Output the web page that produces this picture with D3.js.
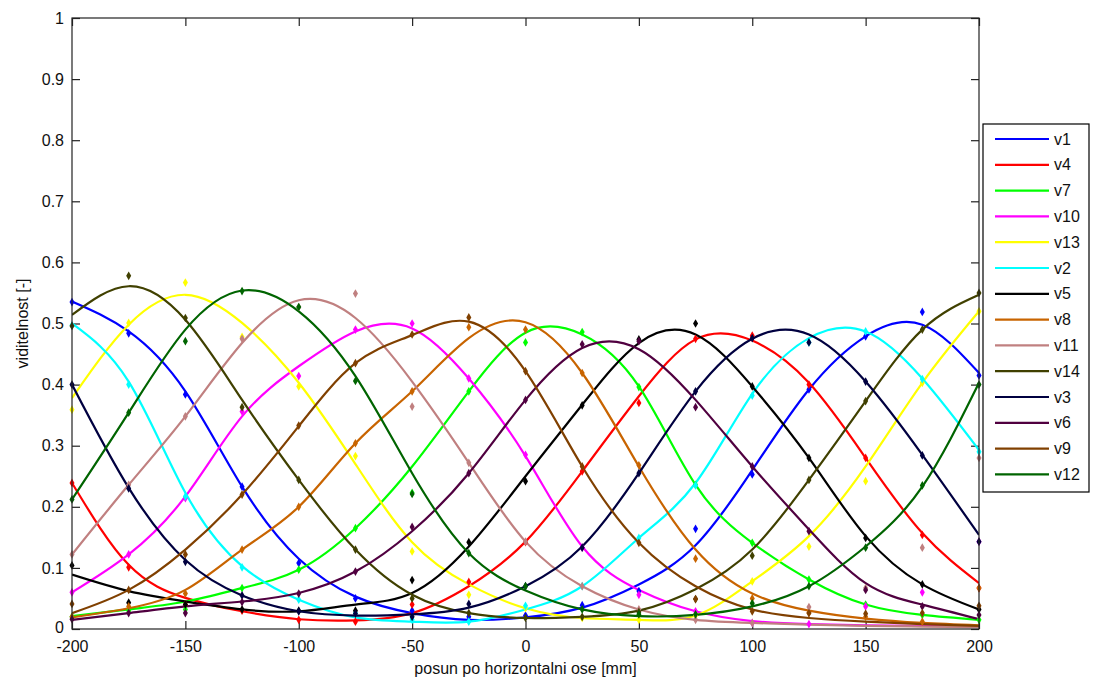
<!DOCTYPE html>
<html>
<head>
<meta charset="utf-8">
<script src="https://cdn.jsdelivr.net/npm/d3@7"></script>
<style>
  body { margin: 0; background: #fff; }
  text { font-family: "Liberation Sans", Arial, sans-serif; fill: #111; }
</style>
</head>
<body>
<div id="myChart"></div>
<script>
// positions along the slide (mm)
const positions = [-200, -175, -150, -125, -100, -75, -50, -25, 0, 25, 50, 75, 100, 125, 150, 175, 200];
const xTicks = [-200, -150, -100, -50, 0, 50, 100, 150, 200];
const yTicks = [0, 0.1, 0.2, 0.3, 0.4, 0.5, 0.6, 0.7, 0.8, 0.9, 1];

const names = ["v1", "v4", "v7", "v10", "v13", "v2", "v5", "v8", "v11", "v14", "v3", "v6", "v9", "v12"];
const colors = ["#0000ff", "#ff0000", "#00ff00", "#ff00ff", "#ffff00", "#00ffff", "#000000",
                "#c86400", "#c08080", "#404000", "#000040", "#500040", "#804000", "#006400"];

// fitted curves, read at every position
const fit_v1 = [0.536, 0.487, 0.389, 0.233, 0.115, 0.053, 0.026, 0.015, 0.019, 0.035, 0.073, 0.137, 0.26, 0.392, 0.479, 0.498, 0.419];
const fit_v4 = [0.239, 0.105, 0.051, 0.029, 0.016, 0.014, 0.026, 0.07, 0.143, 0.258, 0.381, 0.474, 0.472, 0.403, 0.28, 0.157, 0.075];
const fit_v7 = [0.021, 0.032, 0.045, 0.067, 0.097, 0.165, 0.266, 0.389, 0.485, 0.482, 0.397, 0.236, 0.141, 0.081, 0.04, 0.023, 0.015];
const fit_v10 = [0.06, 0.122, 0.217, 0.348, 0.43, 0.487, 0.492, 0.41, 0.283, 0.135, 0.064, 0.029, 0.013, 0.008, 0.006, 0.005, 0.004];
const fit_v13 = [0.378, 0.498, 0.547, 0.501, 0.403, 0.27, 0.142, 0.073, 0.034, 0.018, 0.015, 0.022, 0.078, 0.152, 0.266, 0.403, 0.52];
const fit_v2 = [0.5, 0.405, 0.223, 0.103, 0.048, 0.019, 0.012, 0.012, 0.032, 0.07, 0.149, 0.239, 0.385, 0.476, 0.487, 0.41, 0.293];
const fit_v5 = [0.089, 0.062, 0.045, 0.032, 0.029, 0.04, 0.059, 0.135, 0.25, 0.367, 0.468, 0.482, 0.397, 0.28, 0.152, 0.073, 0.032];
const fit_v8 = [0.019, 0.034, 0.064, 0.13, 0.2, 0.304, 0.389, 0.476, 0.502, 0.419, 0.266, 0.13, 0.058, 0.03, 0.017, 0.01, 0.006];
const fit_v11 = [0.122, 0.236, 0.348, 0.468, 0.538, 0.509, 0.405, 0.272, 0.143, 0.07, 0.032, 0.015, 0.01, 0.007, 0.005, 0.004, 0.003];
const fit_v14 = [0.514, 0.561, 0.506, 0.375, 0.244, 0.13, 0.056, 0.026, 0.018, 0.02, 0.03, 0.065, 0.13, 0.244, 0.373, 0.49, 0.547];
const fit_v3 = [0.4, 0.231, 0.113, 0.055, 0.029, 0.022, 0.024, 0.035, 0.07, 0.135, 0.255, 0.389, 0.475, 0.482, 0.405, 0.285, 0.154];
const fit_v6 = [0.015, 0.026, 0.037, 0.045, 0.059, 0.094, 0.16, 0.255, 0.375, 0.46, 0.458, 0.375, 0.266, 0.163, 0.075, 0.04, 0.016];
const fit_v9 = [0.026, 0.064, 0.13, 0.22, 0.332, 0.435, 0.481, 0.503, 0.422, 0.266, 0.141, 0.07, 0.032, 0.018, 0.012, 0.008, 0.005];
const fit_v12 = [0.212, 0.354, 0.49, 0.554, 0.52, 0.414, 0.255, 0.124, 0.063, 0.032, 0.021, 0.023, 0.037, 0.07, 0.135, 0.233, 0.403];

// measured points
const pts_v1 = [0.535, 0.484, 0.384, 0.233, 0.108, 0.05, 0.03, 0.02, 0.022, 0.039, 0.062, 0.164, 0.253, 0.392, 0.479, 0.519, 0.415];
const pts_v4 = [0.239, 0.101, 0.04, 0.03, 0.015, 0.012, 0.04, 0.077, 0.142, 0.258, 0.37, 0.475, 0.48, 0.4, 0.28, 0.154, 0.067];
const pts_v7 = [0.02, 0.03, 0.032, 0.067, 0.097, 0.165, 0.223, 0.389, 0.469, 0.486, 0.396, 0.236, 0.141, 0.081, 0.04, 0.023, 0.015];
const pts_v10 = [0.06, 0.122, 0.214, 0.356, 0.414, 0.49, 0.5, 0.41, 0.285, 0.133, 0.056, 0.029, 0.01, 0.008, 0.037, 0.06, 0.143];
const pts_v13 = [0.359, 0.501, 0.567, 0.478, 0.397, 0.283, 0.127, 0.056, 0.034, 0.018, 0.015, 0.022, 0.078, 0.135, 0.242, 0.403, 0.52];
const pts_v2 = [0.497, 0.4, 0.217, 0.101, 0.048, 0.026, 0.015, 0.012, 0.038, 0.07, 0.149, 0.235, 0.382, 0.469, 0.487, 0.409, 0.29];
const pts_v5 = [0.104, 0.043, 0.04, 0.032, 0.03, 0.03, 0.08, 0.142, 0.242, 0.366, 0.474, 0.5, 0.397, 0.28, 0.149, 0.073, 0.032];
const pts_v8 = [0.02, 0.037, 0.058, 0.13, 0.2, 0.304, 0.389, 0.494, 0.49, 0.419, 0.268, 0.115, 0.05, 0.026, 0.02, 0.012, 0.067];
const pts_v11 = [0.122, 0.236, 0.348, 0.475, 0.527, 0.549, 0.364, 0.272, 0.143, 0.07, 0.032, 0.015, 0.01, 0.036, 0.067, 0.133, 0.28];
const pts_v14 = [0.496, 0.578, 0.509, 0.363, 0.244, 0.13, 0.05, 0.026, 0.018, 0.02, 0.028, 0.049, 0.12, 0.244, 0.373, 0.49, 0.55];
const pts_v3 = [0.4, 0.23, 0.11, 0.055, 0.029, 0.025, 0.02, 0.041, 0.07, 0.133, 0.255, 0.389, 0.476, 0.469, 0.405, 0.284, 0.143];
const pts_v6 = [0.016, 0.026, 0.026, 0.044, 0.058, 0.094, 0.167, 0.255, 0.375, 0.466, 0.471, 0.363, 0.266, 0.16, 0.064, 0.037, 0.023];
const pts_v9 = [0.041, 0.064, 0.122, 0.22, 0.333, 0.435, 0.482, 0.51, 0.422, 0.266, 0.141, 0.049, 0.029, 0.026, 0.025, 0.026, 0.038];
const pts_v12 = [0.212, 0.354, 0.471, 0.553, 0.527, 0.406, 0.221, 0.124, 0.07, 0.032, 0.024, 0.024, 0.042, 0.07, 0.133, 0.235, 0.4];

const fits = [fit_v1, fit_v4, fit_v7, fit_v10, fit_v13, fit_v2, fit_v5, fit_v8, fit_v11, fit_v14, fit_v3, fit_v6, fit_v9, fit_v12];
const points = [pts_v1, pts_v4, pts_v7, pts_v10, pts_v13, pts_v2, pts_v5, pts_v8, pts_v11, pts_v14, pts_v3, pts_v6, pts_v9, pts_v12];

const size = {
    width: 1093,
    height: 682,
    plot: { left: 72, right: 979, top: 18, bottom: 629 },
    legend: { x: 983, y: 124, width: 106, height: 368, rowHeight: 25.8 },
    font: "16px"
};

const drawChart = function(size) {
    const svg = d3.select("#myChart")
        .append("svg")
        .attr("width", size.width)
        .attr("height", size.height);

    const x = d3.scaleLinear().domain([-200, 200]).range([size.plot.left, size.plot.right]);
    const y = d3.scaleLinear().domain([0, 1]).range([size.plot.bottom, size.plot.top]);

    svg.append("defs").append("clipPath").attr("id", "clip")
        .append("rect")
        .attr("x", size.plot.left).attr("y", size.plot.top)
        .attr("width", size.plot.right - size.plot.left)
        .attr("height", size.plot.bottom - size.plot.top);

    const tickLen = 8;
    const axisColor = "#222";

    // axes: ticks pointing inward, labels outside (plain hyphen like matlab)
    const bottomAxis = svg.append("g")
        .attr("transform", `translate(0, ${size.plot.bottom})`)
        .call(d3.axisBottom(x).tickValues(xTicks).tickSizeInner(-tickLen).tickSizeOuter(0).tickPadding(12)
            .tickFormat((d) => String(d)));
    const topAxis = svg.append("g")
        .attr("transform", `translate(0, ${size.plot.top})`)
        .call(d3.axisTop(x).tickValues(xTicks).tickSizeInner(-tickLen).tickSizeOuter(0).tickFormat(""));
    const leftAxis = svg.append("g")
        .attr("transform", `translate(${size.plot.left}, 0)`)
        .call(d3.axisLeft(y).tickValues(yTicks).tickSizeInner(-tickLen).tickSizeOuter(0).tickPadding(8)
            .tickFormat((d) => String(d)));
    const rightAxis = svg.append("g")
        .attr("transform", `translate(${size.plot.right}, 0)`)
        .call(d3.axisRight(y).tickValues(yTicks).tickSizeInner(-tickLen).tickSizeOuter(0).tickFormat(""));

    [bottomAxis, topAxis, leftAxis, rightAxis].forEach((g) => {
        g.select(".domain").remove();
        g.selectAll("line").attr("stroke", axisColor).attr("stroke-width", 1.2);
        g.selectAll("text").style("font-size", size.font).attr("fill", "#111")
            .style("font-family", "'Liberation Sans', Arial, sans-serif");
    });
    // keep the "0" label clear of the "-200" label below it
    leftAxis.selectAll(".tick text").filter((d) => d === 0).attr("dy", "0.2em");

    // curves
    const lineGen = d3.line()
        .x((d, i) => x(positions[i]))
        .y((d) => y(d))
        .curve(d3.curveNatural);

    const curves = svg.append("g").attr("clip-path", "url(#clip)");
    fits.forEach((series, k) => {
        curves.append("path")
            .datum(series)
            .attr("d", lineGen)
            .attr("fill", "none")
            .attr("stroke", colors[k])
            .attr("stroke-width", 2.2);
    });

    // markers on top
    const diamond = d3.symbol().type(d3.symbolDiamond).size(22);
    points.forEach((series, k) => {
        svg.append("g").selectAll("path")
            .data(series)
            .enter().append("path")
            .attr("d", diamond)
            .attr("transform", (d, i) => `translate(${x(positions[i])}, ${y(d)})`)
            .attr("fill", colors[k]);
    });

    // box
    svg.append("rect")
        .attr("x", size.plot.left).attr("y", size.plot.top)
        .attr("width", size.plot.right - size.plot.left)
        .attr("height", size.plot.bottom - size.plot.top)
        .attr("fill", "none").attr("stroke", axisColor).attr("stroke-width", 1.2);

    // axis titles
    svg.append("text")
        .attr("x", (size.plot.left + size.plot.right) / 2)
        .attr("y", 674)
        .attr("text-anchor", "middle")
        .style("font-size", size.font)
        .text("posun po horizontalni ose [mm]");
    svg.append("text")
        .attr("transform", `translate(28, ${(size.plot.top + size.plot.bottom) / 2}) rotate(-90)`)
        .attr("text-anchor", "middle")
        .style("font-size", size.font)
        .text("viditelnost [-]");

    // legend
    const legend = svg.append("g")
        .attr("transform", `translate(${size.legend.x}, ${size.legend.y})`);
    legend.append("rect")
        .attr("width", size.legend.width)
        .attr("height", size.legend.height)
        .attr("fill", "#fff")
        .attr("stroke", "#000")
        .attr("stroke-width", 1.2);
    const rows = legend.selectAll("g.row")
        .data(names)
        .enter().append("g")
        .attr("transform", (d, i) => `translate(0, ${15 + i * size.legend.rowHeight})`);
    rows.append("line")
        .attr("x1", 12).attr("x2", 66)
        .attr("stroke", (d, i) => colors[i])
        .attr("stroke-width", 2.2);
    rows.append("text")
        .attr("x", 71).attr("dy", "0.35em")
        .style("font-size", size.font)
        .text((d) => d);
};

window.onload = () => {
    drawChart(size);
};
</script>
</body>
</html>
